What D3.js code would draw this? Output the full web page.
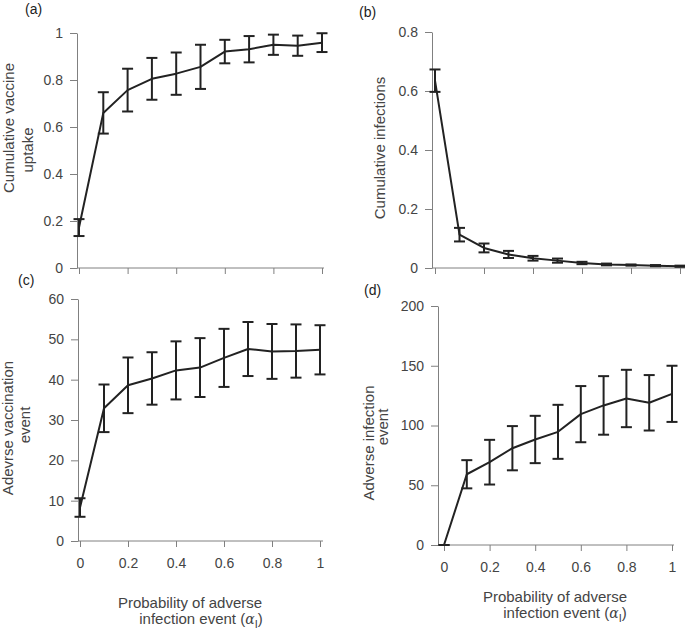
<!DOCTYPE html>
<html>
<head>
<meta charset="utf-8">
<script src="https://cdn.jsdelivr.net/npm/d3@7"></script>
<style>
  html, body { margin: 0; padding: 0; background: #fff; }
  svg { display: block; font-family: "Liberation Sans", Arial, sans-serif; }
</style>
</head>
<body>
<svg id="chart" width="685" height="633"></svg>
<script>
// ---- data ----
const alpha = [0, 0.1, 0.2, 0.3, 0.4, 0.5, 0.6, 0.7, 0.8, 0.9, 1.0];
const xTicks = [0, 0.2, 0.4, 0.6, 0.8, 1];

const uptakeMean = [0.172, 0.660, 0.757, 0.805, 0.827, 0.856, 0.921, 0.931, 0.950, 0.946, 0.959];
const uptakeErr  = [0.036, 0.088, 0.091, 0.089, 0.090, 0.094, 0.050, 0.056, 0.043, 0.043, 0.040];
const uptakeTicks = [0, 0.2, 0.4, 0.6, 0.8, 1];

const infMean = [0.635, 0.113, 0.068, 0.046, 0.033, 0.025, 0.017, 0.012, 0.010, 0.008, 0.006];
const infErr  = [0.038, 0.023, 0.015, 0.012, 0.008, 0.007, 0.004, 0.003, 0.002, 0.002, 0.002];
const infTicks = [0, 0.2, 0.4, 0.6, 0.8];

const advVacMean = [8.3, 32.9, 38.6, 40.3, 42.3, 43.0, 45.4, 47.6, 47.0, 47.1, 47.4];
const advVacErr  = [2.3, 5.9, 6.9, 6.5, 7.2, 7.3, 7.2, 6.7, 6.8, 6.6, 6.1];
const advVacTicks = [0, 10, 20, 30, 40, 50, 60];

const advInfMean = [0, 59.2, 69.3, 81.0, 88.3, 94.7, 109.5, 116.8, 122.6, 119.0, 126.5];
const advInfErr  = [0, 11.8, 18.7, 18.5, 19.8, 22.6, 23.5, 24.5, 24.0, 23.2, 23.5];
const advInfTicks = [0, 50, 100, 150, 200];

// ---- layout ----
const TEXT = "#444";
const AXIS = "#808080";
const LINE = "#222";
const svg = d3.select("#chart");

const panels = [
  { tag: "(a)", tagPos: [25, 14], mean: uptakeMean, err: uptakeErr, ticks: uptakeTicks, ymax: 1,
    axisX: 77, x0: 79, x1: 322, xEnd: 324, yTop: 33, yBot: 268, xLabels: false,
    ylab: [{t: "Cumulative vaccine", x: 14, y: 128}, {t: "uptake", x: 33, y: 150}] },
  { tag: "(b)", tagPos: [359, 17], mean: infMean, err: infErr, ticks: infTicks, ymax: 0.8,
    axisX: 432, x0: 435, x1: 680, xEnd: 685, yTop: 32, yBot: 268, xLabels: false,
    ylab: [{t: "Cumulative infections", x: 385, y: 148}] },
  { tag: "(c)", tagPos: [18, 285], mean: advVacMean, err: advVacErr, ticks: advVacTicks, ymax: 60,
    axisX: 78, x0: 80, x1: 320, xEnd: 323, yTop: 299, yBot: 541, xLabels: true,
    ylab: [{t: "Adevrse vaccination", x: 13, y: 428}, {t: "event", x: 30, y: 425}],
    xlab: [{x: 190, y: 608}, {x: 201, y: 624}] },
  { tag: "(d)", tagPos: [364, 295], mean: advInfMean, err: advInfErr, ticks: advInfTicks, ymax: 200,
    axisX: 438, x0: 444, x1: 672, xEnd: 674, yTop: 306, yBot: 545, xLabels: true,
    ylab: [{t: "Adverse infection", x: 374, y: 443}, {t: "event", x: 388, y: 427}],
    xlab: [{x: 555, y: 602}, {x: 565, y: 618}] }
];

panels.forEach(p => {
  const x = d3.scaleLinear().domain([0, 1]).range([p.x0, p.x1]);
  const y = d3.scaleLinear().domain([0, p.ymax]).range([p.yBot, p.yTop]);
  const g = svg.append("g");

  // y axis
  const yAx = g.append("g").attr("transform", `translate(${p.axisX},0)`)
    .call(d3.axisLeft(y).tickValues(p.ticks).tickSize(7).tickPadding(7).tickSizeOuter(0)
      .tickFormat(d3.format("~g")));
  yAx.select(".domain").attr("stroke", AXIS);
  yAx.selectAll(".tick line").attr("stroke", AXIS);
  yAx.selectAll("text").attr("fill", TEXT).style("font-size", "14px")
    .style("font-family", "Liberation Sans, Arial, sans-serif");

  // x axis
  const xAx = g.append("g").attr("transform", `translate(0,${p.yBot})`)
    .call(d3.axisBottom(x).tickValues(xTicks).tickSize(6).tickPadding(11).tickSizeOuter(0)
      .tickFormat(p.xLabels ? d3.format("~g") : ""));
  xAx.select(".domain").remove();
  xAx.selectAll(".tick line").attr("stroke", AXIS);
  xAx.selectAll("text").attr("fill", TEXT).style("font-size", "14px")
    .style("font-family", "Liberation Sans, Arial, sans-serif");
  g.append("line").attr("x1", p.axisX).attr("x2", p.xEnd)
    .attr("y1", p.yBot).attr("y2", p.yBot).attr("stroke", AXIS).attr("stroke-width", 1);

  // error bars
  const cap = 5.5;
  const eb = g.append("g").attr("stroke", LINE).attr("stroke-width", 2).attr("fill", "none");
  alpha.forEach((a, i) => {
    const cx = x(a), lo = y(p.mean[i] - p.err[i]), hi = y(p.mean[i] + p.err[i]);
    eb.append("line").attr("x1", cx).attr("x2", cx).attr("y1", lo).attr("y2", hi);
    eb.append("line").attr("x1", cx - cap).attr("x2", cx + cap).attr("y1", lo).attr("y2", lo);
    eb.append("line").attr("x1", cx - cap).attr("x2", cx + cap).attr("y1", hi).attr("y2", hi);
  });

  // mean line
  g.append("path")
    .datum(alpha.map((a, i) => [a, p.mean[i]]))
    .attr("fill", "none").attr("stroke", LINE).attr("stroke-width", 2)
    .attr("stroke-linejoin", "round")
    .attr("d", d3.line().x(d => x(d[0])).y(d => y(d[1])));

  // panel tag
  g.append("text").attr("x", p.tagPos[0]).attr("y", p.tagPos[1])
    .attr("fill", "#222").style("font-size", "14px").text(p.tag);

  // y labels
  p.ylab.forEach(l => {
    g.append("text")
      .attr("transform", `translate(${l.x},${l.y}) rotate(-90)`)
      .attr("text-anchor", "middle").attr("fill", TEXT)
      .style("font-size", "15px").text(l.t);
  });

  // x labels
  if (p.xlab) {
    g.append("text").attr("x", p.xlab[0].x).attr("y", p.xlab[0].y)
      .attr("text-anchor", "middle").attr("fill", TEXT).style("font-size", "15px")
      .text("Probability of adverse");
    const t2 = g.append("text").attr("x", p.xlab[1].x).attr("y", p.xlab[1].y)
      .attr("text-anchor", "middle").attr("fill", TEXT).style("font-size", "15px");
    t2.append("tspan").text("infection event (");
    t2.append("tspan").style("font-family", "DejaVu Serif, serif").style("font-style", "italic")
      .style("font-size", "14px").text("α");
    t2.append("tspan").attr("dy", 4).style("font-size", "11px").text("I");
    t2.append("tspan").attr("dy", -4).text(")");
  }
});
</script>
</body>
</html>
